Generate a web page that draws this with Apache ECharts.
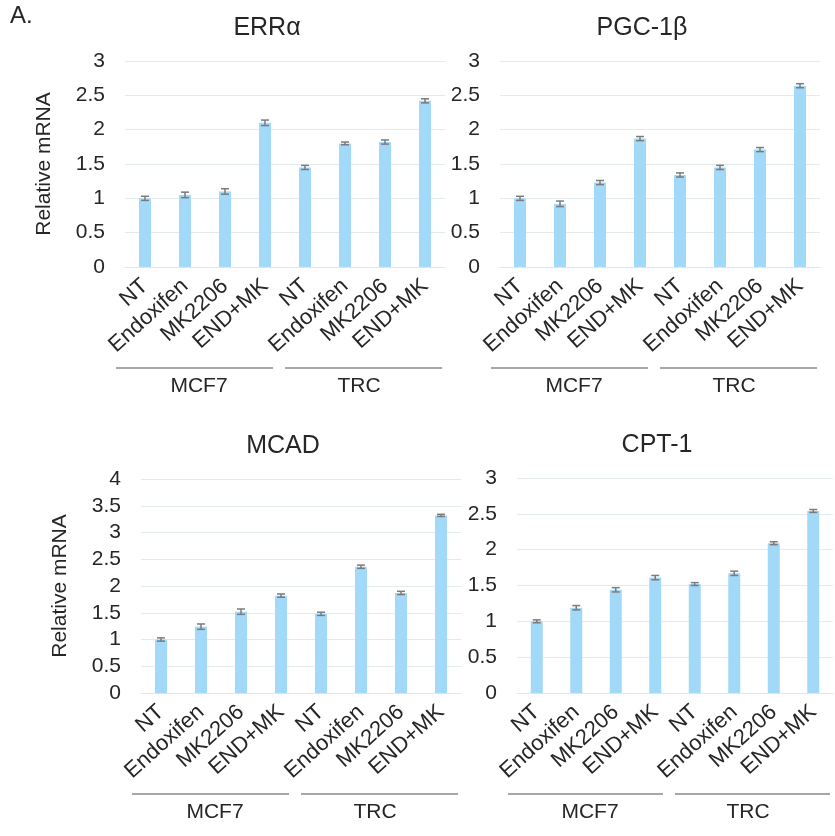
<!DOCTYPE html>
<html>
<head>
<meta charset="utf-8">
<script src="https://cdn.jsdelivr.net/npm/echarts@6/dist/echarts.min.js"></script>
<style>
html,body{margin:0;padding:0;background:#fff;}
#main{width:835px;height:836px;}
</style>
</head>
<body>
<div id="main"></div>
<script>
// ---- data ----
var categories = ['NT', 'Endoxifen', 'MK2206', 'END+MK', 'NT', 'Endoxifen', 'MK2206', 'END+MK'];
var groups = ['MCF7', 'TRC'];
var groupSpans = [[0, 3], [4, 7]];
var titles = ['ERRα', 'PGC-1β', 'MCAD', 'CPT-1'];
var yMaxes = [3, 3, 4, 3];
var yTicks = [0, 0.5, 1, 1.5, 2, 2.5, 3, 3.5, 4];

var errValues  = [1.00, 1.05, 1.10, 2.10, 1.45, 1.80, 1.82, 2.42];
var errErr     = [0.03, 0.04, 0.04, 0.04, 0.03, 0.02, 0.03, 0.03];
var pgcValues  = [1.00, 0.92, 1.23, 1.87, 1.34, 1.45, 1.71, 2.64];
var pgcErr     = [0.03, 0.04, 0.03, 0.03, 0.03, 0.03, 0.03, 0.03];
var mcadValues = [1.00, 1.24, 1.52, 1.82, 1.48, 2.36, 1.87, 3.32];
var mcadErr    = [0.03, 0.05, 0.05, 0.03, 0.03, 0.03, 0.03, 0.02];
var cptValues  = [1.00, 1.19, 1.44, 1.61, 1.52, 1.67, 2.09, 2.54];
var cptErr     = [0.02, 0.03, 0.03, 0.03, 0.02, 0.03, 0.02, 0.02];

var allValues = [errValues, pgcValues, mcadValues, cptValues];
var allErrs = [errErr, pgcErr, mcadErr, cptErr];

// ---- layout ----
var FONT = '"Liberation Sans", Arial, Helvetica, sans-serif';
var grids = [
  {left: 125, top: 61, width: 320, height: 206},
  {left: 500, top: 61, width: 320, height: 206},
  {left: 141, top: 479, width: 320, height: 214},
  {left: 517, top: 478, width: 316, height: 215}
];
var BAR_COLOR = '#a2d9f9';
var TEXT_COLOR = '#262626';

var option = {
  backgroundColor: '#fff',
  animation: false,
  textStyle: {fontFamily: FONT},
  title: [],
  grid: [],
  xAxis: [],
  yAxis: [],
  series: [],
  graphic: [{
    type: 'text', left: 10, top: 4,
    style: {text: 'A.', font: '24px ' + FONT, fill: TEXT_COLOR}
  }]
};

grids.forEach(function (g, i) {
  option.grid.push({left: g.left, top: g.top, width: g.width, height: g.height, containLabel: false});
  option.title.push({
    text: titles[i],
    left: g.left + g.width / 2 - 23,
    top: g.top - 50,
    textAlign: 'center',
    textStyle: {fontFamily: FONT, fontSize: 25, fontWeight: 'normal', color: TEXT_COLOR}
  });
  option.xAxis.push({
    type: 'category',
    gridIndex: i,
    data: categories,
    axisLine: {show: true, lineStyle: {color: '#dfe6e8', width: 1}},
    axisTick: {show: false},
    axisLabel: {
      interval: 0, rotate: 42, margin: 16,
      fontFamily: FONT, fontSize: 22, color: TEXT_COLOR
    }
  });
  option.yAxis.push({
    type: 'value',
    gridIndex: i,
    min: 0, max: yMaxes[i], interval: 0.5,
    name: (i === 0 || i === 2) ? 'Relative mRNA' : '',
    nameLocation: 'middle',
    nameGap: 70,
    nameTextStyle: {fontFamily: FONT, fontSize: 21, color: TEXT_COLOR},
    axisLine: {show: false},
    axisTick: {show: false},
    splitLine: {lineStyle: {color: '#e3ebed', width: 1}},
    axisLabel: {
      margin: 20, fontFamily: FONT, fontSize: 21, color: TEXT_COLOR,
      formatter: function (v) { return yTicks.indexOf(v) >= 0 ? String(v) : ''; }
    }
  });
  option.series.push({
    type: 'bar',
    xAxisIndex: i, yAxisIndex: i,
    barWidth: 12,
    itemStyle: {color: BAR_COLOR},
    data: allValues[i]
  });
  option.series.push({
    type: 'custom',
    xAxisIndex: i, yAxisIndex: i,
    z: 5,
    data: allValues[i].map(function (v, k) { return [k, v, allErrs[i][k]]; }),
    encode: {x: 0, y: 1},
    renderItem: function (params, api) {
      var x = api.value(0), v = api.value(1), e = api.value(2);
      var hi = api.coord([x, v + e]);
      var lo = api.coord([x, v - e]);
      var hw = 4;
      var st = {stroke: '#7b7b7b', lineWidth: 1.5};
      return {
        type: 'group',
        children: [
          {type: 'line', shape: {x1: hi[0], y1: hi[1], x2: lo[0], y2: lo[1]}, style: st},
          {type: 'line', shape: {x1: hi[0] - hw, y1: hi[1], x2: hi[0] + hw, y2: hi[1]}, style: st},
          {type: 'line', shape: {x1: lo[0] - hw, y1: lo[1], x2: lo[0] + hw, y2: lo[1]}, style: st}
        ]
      };
    }
  });
  // group brackets (MCF7 / TRC) drawn through the category scale
  option.series.push({
    type: 'custom',
    xAxisIndex: i, yAxisIndex: i,
    clip: false,
    silent: true,
    data: groupSpans.map(function (s, k) { return {value: [s[0], 0, s[1]], name: groups[k]}; }),
    encode: {x: 0, y: 1},
    renderItem: function (params, api) {
      var s = api.value(0), e = api.value(2);
      var band = api.size([1, 0])[0];
      var p0 = api.coord([s, 0]);
      var p1 = api.coord([e, 0]);
      var left = p0[0] - band / 2;
      var right = p1[0] + band / 2;
      var offL = params.dataIndex === 0 ? -9 : 0;
      var offR = params.dataIndex === 0 ? -12 : -3;
      var y = p0[1] + 101;
      return {
        type: 'group',
        children: [
          {type: 'line', shape: {x1: left + offL, y1: y, x2: right + offR, y2: y},
           style: {stroke: '#8a8a8a', lineWidth: 1.5}},
          {type: 'text', x: (left + right) / 2 - 6, y: y + 18,
           style: {text: groups[params.dataIndex], font: '21px ' + FONT, fill: TEXT_COLOR,
                   textAlign: 'center', textVerticalAlign: 'middle'}}
        ]
      };
    }
  });
});

var chart = echarts.init(document.getElementById('main'), null, {renderer: 'canvas'});
chart.setOption(option);
</script>
</body>
</html>
